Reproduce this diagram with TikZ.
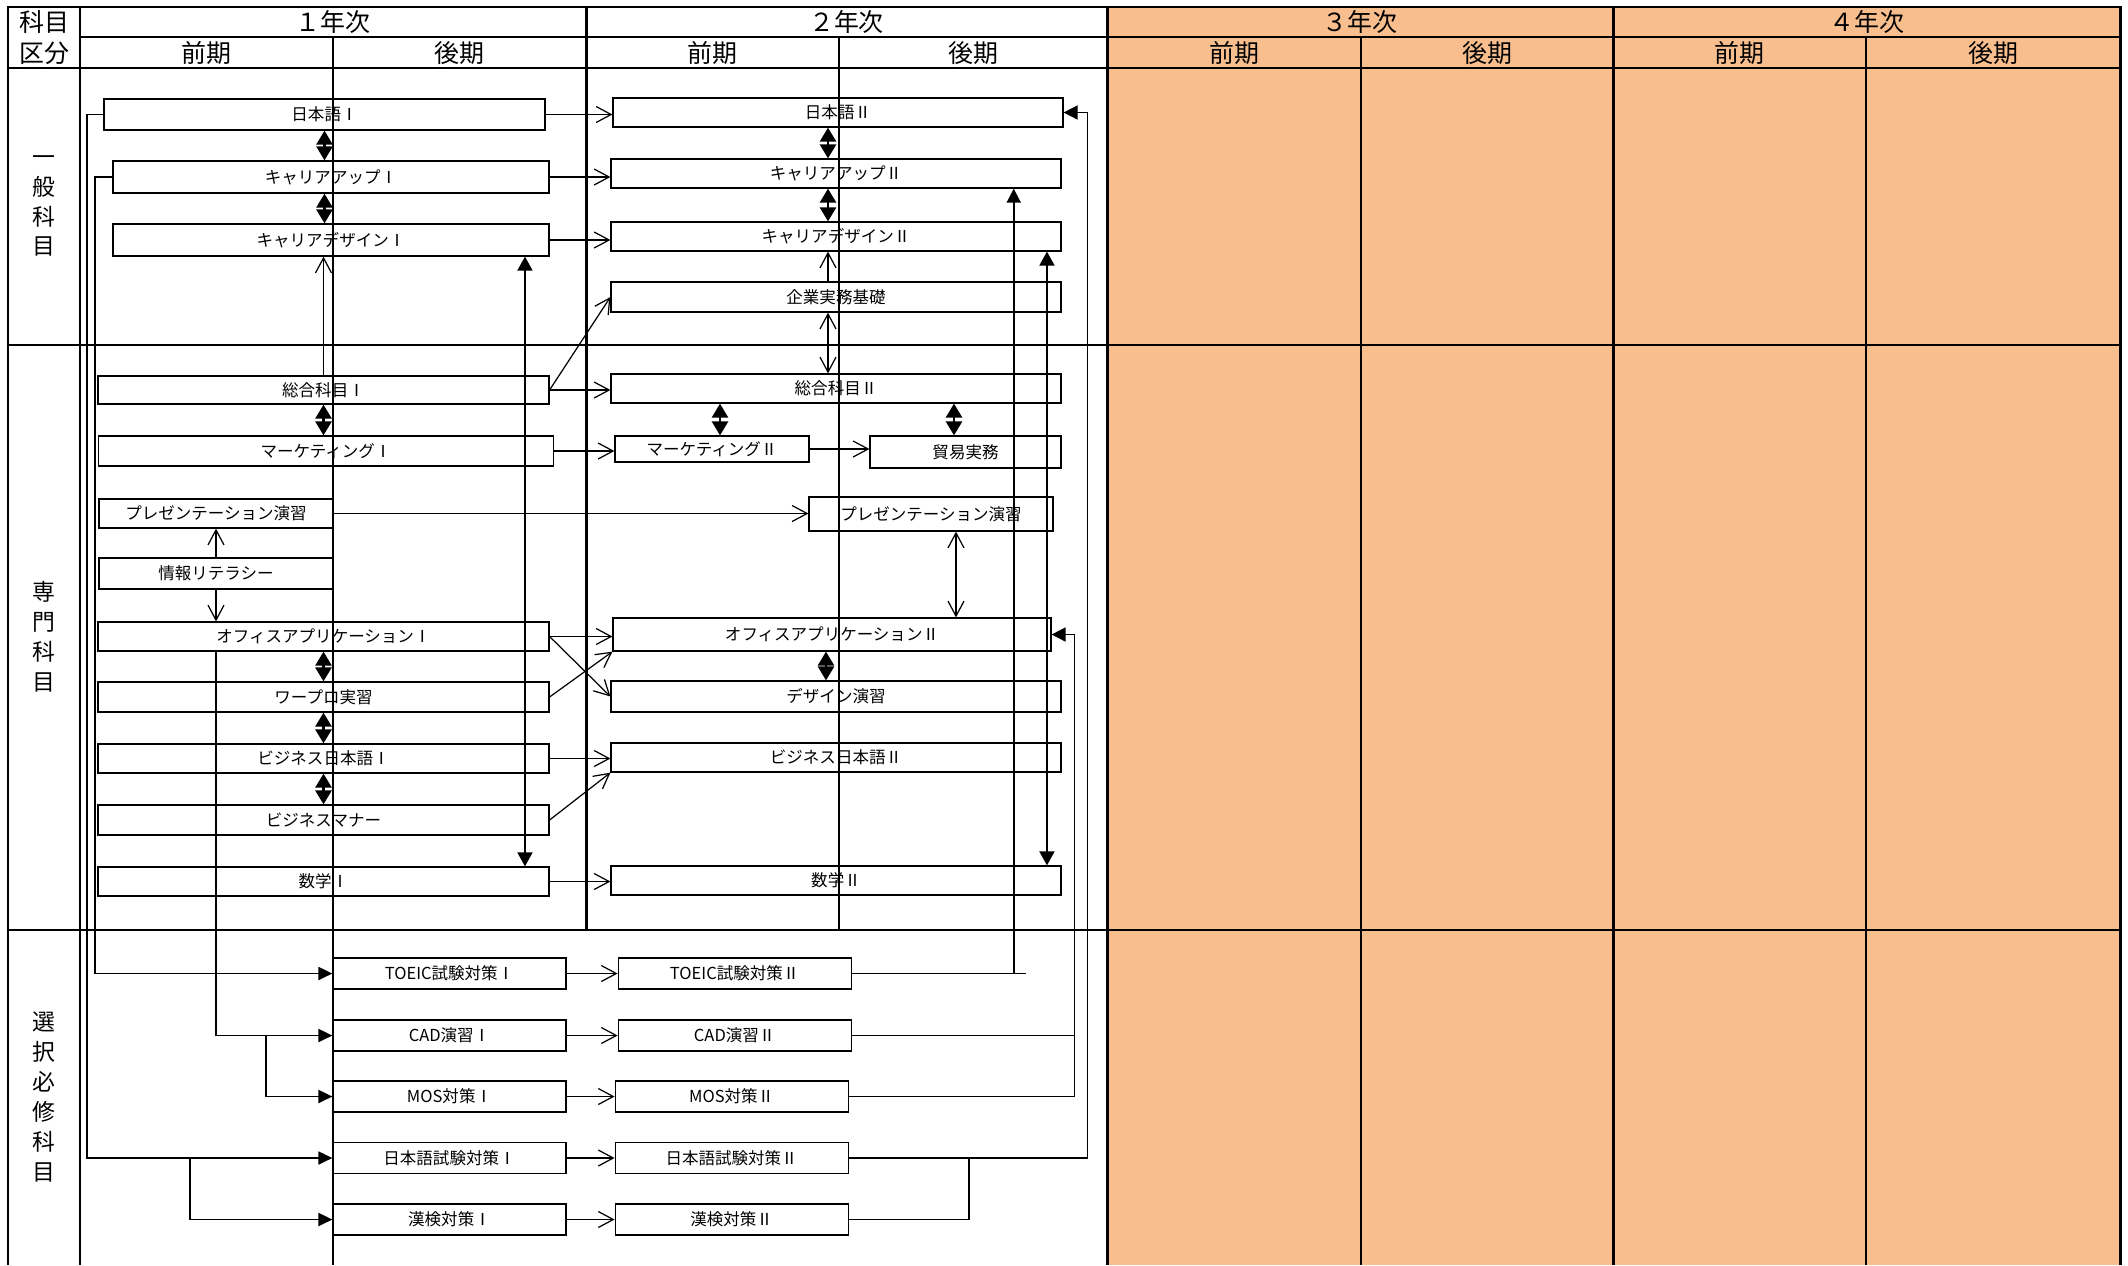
\documentclass[tikz,border=0pt]{standalone}
\usepackage{fontspec}
\setmainfont{Noto Sans CJK JP}
\usetikzlibrary{arrows.meta, positioning}
\definecolor{later}{RGB}{248,190,142}

\begin{document}
\begin{tikzpicture}[
  x=0.02cm, y=-0.02cm,
  box/.style={draw, rectangle, inner sep=0pt, line width=0.7pt, minimum width=9cm, minimum height=0.6cm, font=\fontsize{9.4}{11}\selectfont},
  opt/.style={box, minimum width=4.66cm, minimum height=0.62cm},
  head/.style={font=\fontsize{14.2}{17}\selectfont},
  side/.style={align=center, font=\fontsize{13}{17}\selectfont},
  thickrule/.style={line width=1.7pt},
  thinrule/.style={line width=0.75pt},
  arrow/.style={line width=0.7pt, -{Straight Barb[length=0.3cm, width=0.32cm]}},
  twoway/.style={line width=0.7pt, {Straight Barb[length=0.3cm, width=0.32cm]}-{Straight Barb[length=0.3cm, width=0.32cm]}},
  link/.style={line width=1.5pt, {Triangle[length=0.28cm, width=0.32cm]}-{Triangle[length=0.28cm, width=0.32cm]}},
  span/.style={line width=1pt, {Triangle[length=0.28cm, width=0.3cm]}-{Triangle[length=0.28cm, width=0.3cm]}},
  feed/.style={line width=1.1pt, -{Triangle[length=0.28cm, width=0.26cm]}},
  back/.style={line width=0.9pt},
  backarrow/.style={back, -{Triangle[length=0.28cm, width=0.28cm]}}
]
  \useasboundingbox (0,0) rectangle (2128,1265);
  \fill [later] (1107,7) rectangle (2120,1265);

  \draw [thinrule] (333,37) -- (333,1265) (839,37) -- (839,930) (1361,37) -- (1361,1265) (1866,37) -- (1866,1265);
  \draw [thinrule] (8,345) -- (2120,345);
  \draw [line width=1pt] (8,930) -- (2120,930);
  \draw [thickrule] (8,1265) -- (8,7) -- (2120,7) -- (2120,1265);
  \draw [thickrule] (80,7) -- (80,1265) (80,37) -- (2120,37) (8,68) -- (2120,68);
  \draw [thickrule] (586,7) -- (586,930) (1107,7) -- (1107,1265) (1613,7) -- (1613,1265);

  \node (kamoku) [head] at (44,22) {科目};
  \node (kubun) [head] at (44,53) {区分};
  \node (year1) [head] at (333,22) {１年次};
  \node (year2) [head] at (846.5,22) {２年次};
  \node (year3) [head] at (1360,22) {３年次};
  \node (year4) [head] at (1866.5,22) {４年次};
  \node (term1a) [head] at (206.5,53) {前期};
  \node (term1b) [head] at (459.5,53) {後期};
  \node (term2a) [head] at (712.5,53) {前期};
  \node (term2b) [head] at (973,53) {後期};
  \node (term3a) [head] at (1234,53) {前期};
  \node (term3b) [head] at (1487,53) {後期};
  \node (term4a) [head] at (1739.5,53) {前期};
  \node (term4b) [head] at (1993,53) {後期};

  \node (general) [side] at (44,206) {一\\般\\科\\目};
  \node (special) [side] at (44,637) {専\\門\\科\\目};
  \node (elective) [side] at (44,1097) {選\\択\\必\\修\\科\\目};

  \node (nihonA) [box, minimum width=8.82cm, minimum height=0.62cm] at (324.5,114.5) {日本語Ⅰ};
  \node (carupA) [box, minimum width=8.72cm, minimum height=0.64cm] at (331,177) {キャリアアップⅠ};
  \node (cardesA) [box, minimum width=8.72cm, minimum height=0.64cm] at (331,240) {キャリアデザインⅠ};
  \node (nihonB) [box, minimum height=0.58cm] at (838,112.5) {日本語Ⅱ};
  \node (carupB) [box, minimum height=0.58cm] at (836,173.5) {キャリアアップⅡ};
  \node (cardesB) [box, minimum height=0.58cm] at (836,236.5) {キャリアデザインⅡ};
  \node (kigyo) [box] at (836,297) {企業実務基礎};

  \node (sogoA) [box, minimum width=9.02cm, minimum height=0.56cm] at (323.5,390) {総合科目Ⅰ};
  \node (mktA) [box, minimum width=9.1cm] at (326,451) {マーケティングⅠ};
  \node (presA) [box, minimum width=4.68cm, minimum height=0.58cm] at (216,513.5) {プレゼンテーション演習};
  \node (johoA) [box, minimum width=4.68cm, minimum height=0.62cm] at (216,573.5) {情報リテラシー};
  \node (officeA) [box, minimum width=9.02cm, minimum height=0.58cm] at (323.5,636.5) {オフィスアプリケーションⅠ};
  \node (wapuro) [box, minimum width=9.02cm] at (323.5,697) {ワープロ実習};
  \node (bizjpA) [box, minimum width=9.02cm, minimum height=0.58cm] at (323.5,758.5) {ビジネス日本語Ⅰ};
  \node (manner) [box, minimum width=9.02cm] at (323.5,820) {ビジネスマナー};
  \node (mathA) [box, minimum width=9.02cm, minimum height=0.58cm] at (323.5,881.5) {数学Ⅰ};

  \node (sogoB) [box, minimum height=0.58cm] at (836,388.5) {総合科目Ⅱ};
  \node (mktB) [box, minimum width=3.88cm, minimum height=0.52cm] at (712,449) {マーケティングⅡ};
  \node (boeki) [box, minimum width=3.82cm, minimum height=0.64cm] at (965.5,452) {貿易実務};
  \node (presB) [box, minimum width=4.88cm, minimum height=0.68cm] at (931,514) {プレゼンテーション演習};
  \node (officeB) [box, minimum width=8.76cm, minimum height=0.66cm] at (832,634.5) {オフィスアプリケーションⅡ};
  \node (design) [box, minimum height=0.62cm] at (836,696.5) {デザイン演習};
  \node (bizjpB) [box, minimum height=0.58cm] at (836,757.5) {ビジネス日本語Ⅱ};
  \node (mathB) [box, minimum height=0.58cm] at (836,880.5) {数学Ⅱ};

  \node (toeicA) [opt] at (449.5,973.5) {TOEIC試験対策Ⅰ};
  \node (cadA) [opt] at (449.5,1035.5) {CAD演習Ⅰ};
  \node (mosA) [opt] at (449.5,1096.5) {MOS対策Ⅰ};
  \node (jtestA) [opt] at (449.5,1158) {日本語試験対策Ⅰ};
  \node (kankenA) [opt] at (449.5,1219.5) {漢検対策Ⅰ};
  \node (toeicB) [opt, right=1.02cm of toeicA] {TOEIC試験対策Ⅱ};
  \node (cadB) [opt, right=1.02cm of cadA] {CAD演習Ⅱ};
  \node (mosB) [opt, right=0.96cm of mosA] {MOS対策Ⅱ};
  \node (jtestB) [opt, right=0.96cm of jtestA] {日本語試験対策Ⅱ};
  \node (kankenB) [opt, right=0.96cm of kankenA] {漢検対策Ⅱ};

  \draw [arrow] (nihonA.east) -- (nihonA.east -| nihonB.west);
  \draw [arrow] (carupA.east) -- (carupA.east -| carupB.west);
  \draw [arrow] (cardesA.east) -- (cardesA.east -| cardesB.west);
  \draw [arrow] (sogoA.east) -- (sogoA.east -| sogoB.west);
  \draw [arrow] (sogoA.east) -- (kigyo.west);
  \draw [arrow] (mktA.east) -- (mktA.east -| mktB.west);
  \draw [arrow] (mktB.east) -- (mktB.east -| boeki.west);
  \draw [arrow] (presA.east) -- (presA.east -| presB.west);
  \draw [arrow] (officeA.east) -- (officeA.east -| officeB.west);
  \draw [arrow] (officeA.east) -- (design.west);
  \draw [arrow] (wapuro.east) -- (officeB.south west);
  \draw [arrow] (bizjpA.east) -- (bizjpA.east -| bizjpB.west);
  \draw [arrow] (manner.east) -- (bizjpB.south west);
  \draw [arrow] (mathA.east) -- (mathA.east -| mathB.west);
  \draw [arrow] (sogoA.north) -- (sogoA.north |- cardesA.south);
  \draw [arrow] ([xshift=-0.16cm]kigyo.north) -- ([xshift=-0.16cm]kigyo.north |- cardesB.south);
  \draw [twoway] ([xshift=-0.16cm]kigyo.south) -- ([xshift=-0.16cm]kigyo.south |- sogoB.north);
  \draw [arrow] (johoA.north) -- (presA.south);
  \draw [arrow] (johoA.south) -- (johoA.south |- officeA.north);
  \draw [twoway] ([xshift=0.5cm]presB.south) -- ([xshift=0.5cm]presB.south |- officeB.north);
  \draw [arrow] (toeicA) -- (toeicB);
  \draw [arrow] (cadA) -- (cadB);
  \draw [arrow] (mosA) -- (mosB);
  \draw [arrow] (jtestA) -- (jtestB);
  \draw [arrow] (kankenA) -- (kankenB);

  \draw [link] (nihonA.south) -- (nihonA.south |- carupA.north);
  \draw [link] (nihonA.south |- carupA.south) -- (nihonA.south |- cardesA.north);
  \draw [link] ([xshift=-0.2cm]nihonB.south) -- ([xshift=-0.2cm]nihonB.south |- carupB.north);
  \draw [link] ([xshift=-0.2cm]nihonB.south |- carupB.south) -- ([xshift=-0.2cm]nihonB.south |- cardesB.north);
  \draw [link] (sogoA.south) -- (sogoA.south |- mktA.north);
  \draw [link] ([xshift=0.16cm]mktB.north |- sogoB.south) -- ([xshift=0.16cm]mktB.north);
  \draw [link] ([xshift=-0.23cm]boeki.north |- sogoB.south) -- ([xshift=-0.23cm]boeki.north);
  \draw [link] (officeA.south) -- (officeA.south |- wapuro.north);
  \draw [link] (wapuro.south) -- (wapuro.south |- bizjpA.north);
  \draw [link] (bizjpA.south) -- (bizjpA.south |- manner.north);
  \draw [link] ([xshift=-0.12cm]officeB.south) -- ([xshift=-0.12cm]officeB.south |- design.north);
  \draw [span] ([xshift=3.88cm]cardesA.south) -- ([xshift=3.88cm]cardesA.south |- mathA.north);
  \draw [span] ([xshift=4.22cm]cardesB.south) -- ([xshift=4.22cm]cardesB.south |- mathB.north);

  \draw [feed] (nihonA.west) -- ++(-0.32cm,0) |- (jtestA.west);
  \draw [feed] ([xshift=-2.84cm]jtestA.west) |- (kankenA.west);
  \draw [feed] (carupA.west) -- ++(-0.34cm,0) |- (toeicA.west);
  \draw [feed] (johoA.south |- officeA.south) |- (cadA.west);
  \draw [feed] ([xshift=-1.32cm]cadA.west) |- (mosA.west);

  \draw [back] (toeicB.east) -- ++(3.48cm,0);
  \draw [backarrow] ([xshift=3.24cm]toeicB.east) -- ([xshift=3.24cm]toeicB.east |- carupB.south);
  \draw [back] (cadB.east) -- ([xshift=0.46cm]officeB.east |- cadB.east);
  \draw [backarrow] (mosB.east) -| ([xshift=0.46cm]officeB.east) -- (officeB.east);
  \draw [backarrow] (jtestB.east) -| ([xshift=0.48cm]nihonB.east) -- (nihonB.east);
  \draw [back] (kankenB.east) -| ([xshift=2.4cm]jtestB.east);
\end{tikzpicture}
\end{document}
